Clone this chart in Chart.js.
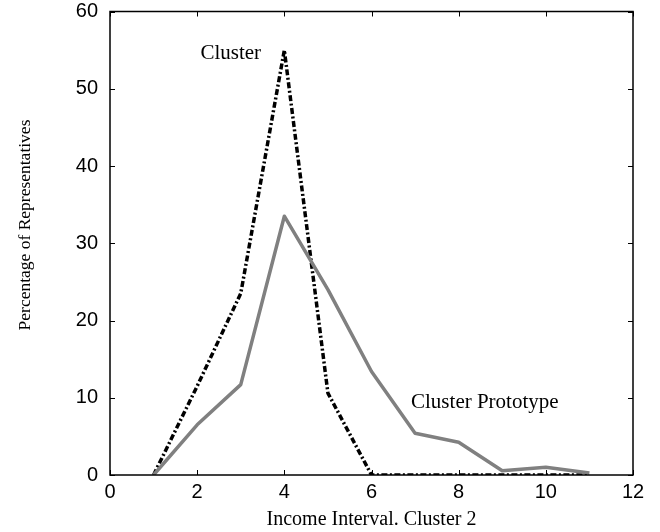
<!DOCTYPE html>
<html>
<head>
<meta charset="utf-8">
<script src="https://cdn.jsdelivr.net/npm/chart.js@4"></script>
<style>
  html, body { margin: 0; padding: 0; background: #fff; }
  #wrap { width: 660px; height: 532px; position: relative; }
</style>
</head>
<body>
<div id="wrap"><canvas id="chart"></canvas></div>
<script>
const intervals   = [1, 2, 3, 4, 5, 6, 7, 8, 9, 10, 11];
const clusterVals = [0, 11.5, 23.5, 55, 10.6, 0, 0, 0, 0, 0, 0];
const protoVals   = [0, 6.5, 11.7, 33.5, 24, 13.4, 5.4, 4.25, 0.55, 1.0, 0.25];
const xTicks      = [0, 2, 4, 6, 8, 10, 12];
const yTicks      = [0, 10, 20, 30, 40, 50, 60];
const notes = [
  { text: 'Cluster',           x: 2.77, y: 54.6 },
  { text: 'Cluster Prototype', x: 8.6,  y: 9.4 }
];
const yTitle = 'Percentage of Representatives';

const serif = '"Liberation Serif", "Times New Roman", serif';
const sans  = '"Liberation Sans", Arial, sans-serif';

const toPts = vals => intervals.map((x, i) => ({ x, y: vals[i] }));

// frame + inward ticks on all four sides, notes and the y title
const framePlugin = {
  id: 'frame',
  afterDraw(chart) {
    const { ctx, chartArea: a, scales: { x, y } } = chart;
    ctx.save();
    ctx.strokeStyle = '#000';
    ctx.lineWidth = 1.5;
    ctx.strokeRect(a.left, a.top, a.right - a.left, a.bottom - a.top);
    ctx.lineWidth = 1;
    const len = 5;
    xTicks.forEach(v => {
      const px = Math.round(x.getPixelForValue(v)) + 0.5;
      ctx.beginPath();
      ctx.moveTo(px, a.bottom); ctx.lineTo(px, a.bottom - len);
      ctx.moveTo(px, a.top);    ctx.lineTo(px, a.top + len);
      ctx.stroke();
    });
    yTicks.forEach(v => {
      const py = Math.round(y.getPixelForValue(v)) + 0.5;
      ctx.beginPath();
      ctx.moveTo(a.left, py);  ctx.lineTo(a.left + len, py);
      ctx.moveTo(a.right, py); ctx.lineTo(a.right - len, py);
      ctx.stroke();
    });
    ctx.fillStyle = '#000';
    ctx.font = '21px ' + serif;
    ctx.textAlign = 'center';
    ctx.textBaseline = 'middle';
    notes.forEach(n => {
      ctx.fillText(n.text, x.getPixelForValue(n.x), y.getPixelForValue(n.y));
    });
    // y axis title, a bit above the plot's middle as in the original
    ctx.translate(25, 225);
    ctx.rotate(-Math.PI / 2);
    ctx.font = '17.5px ' + serif;
    ctx.fillText(yTitle, 0, 0);
    ctx.restore();
  }
};

new Chart(document.getElementById('chart'), {
  type: 'line',
  data: {
    datasets: [
      {
        label: 'Cluster Prototype',
        data: toPts(protoVals),
        borderColor: '#808080',
        borderWidth: 3.5,
        borderJoinStyle: 'round',
        pointRadius: 0,
        tension: 0,
        fill: false
      },
      {
        label: 'Cluster',
        data: toPts(clusterVals),
        borderColor: '#000',
        borderWidth: 3.5,
        borderJoinStyle: 'round',
        borderDash: [6, 2.5, 2, 2.5],
        pointRadius: 0,
        tension: 0,
        fill: false
      }
    ]
  },
  options: {
    responsive: true,
    maintainAspectRatio: false,
    animation: false,
    layout: { padding: { left: 0, right: 27, top: 11.5, bottom: 0 } },
    plugins: { legend: { display: false }, tooltip: { enabled: false } },
    scales: {
      x: {
        type: 'linear',
        min: 0, max: 12,
        afterBuildTicks: s => { s.ticks = xTicks.map(v => ({ value: v })); },
        afterFit: s => { s.height = 57; s.paddingLeft = 0; s.paddingRight = 0; },
        grid: { display: false },
        border: { display: false },
        ticks: {
          color: '#000',
          padding: -3,
          maxRotation: 0,
          font: { family: sans, size: 20 }
        },
        title: {
          display: true,
          text: 'Income Interval. Cluster 2',
          color: '#000',
          padding: { top: 0, bottom: 0 },
          font: { family: serif, size: 20 }
        }
      },
      y: {
        min: 0, max: 60,
        afterBuildTicks: s => { s.ticks = yTicks.map(v => ({ value: v })); },
        afterFit: s => { s.width = 110; s.paddingTop = 0; s.paddingBottom = 0; },
        grid: { display: false },
        border: { display: false },
        ticks: {
          color: '#000',
          padding: 4,
          font: { family: sans, size: 20 }
        }
      }
    }
  },
  plugins: [framePlugin]
});
</script>
</body>
</html>
